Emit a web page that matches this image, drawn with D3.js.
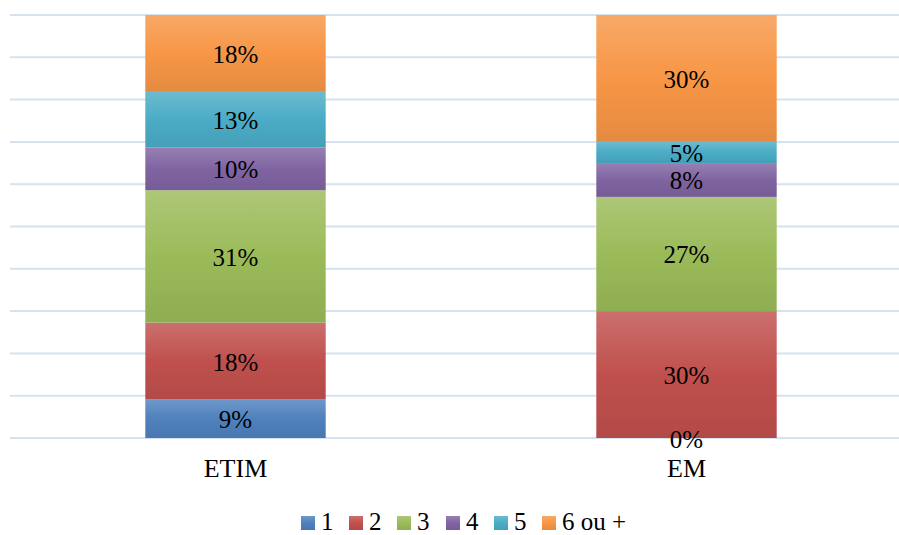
<!DOCTYPE html>
<html>
<head>
<meta charset="utf-8">
<script src="https://cdn.jsdelivr.net/npm/d3@7"></script>
<style>
  html, body { margin: 0; padding: 0; background: #fff; }
  svg { display: block; }
  text { font-family: "Liberation Serif", "Times New Roman", Times, serif; font-size: 25px; fill: #000; }
  .cat { font-size: 26px; }
  .leg { font-size: 25px; }
</style>
</head>
<body>
<svg id="chart" width="899" height="535"></svg>
<script>
// Categories and series (share of respondents, %)
const categories = ["ETIM", "EM"];
const seriesNames = ["1", "2", "3", "4", "5", "6 ou +"];
const s1 = [9, 0];
const s2 = [18, 30];
const s3 = [31, 27];
const s4 = [10, 8];
const s5 = [13, 5];
const s6 = [18, 30];
const seriesValues = [s1, s2, s3, s4, s5, s6];
const colors = ["#4f81bd", "#c0504d", "#9bbb59", "#8064a2", "#4bacc6", "#f79646"];
const yTicks = [0, 0.1, 0.2, 0.3, 0.4, 0.5, 0.6, 0.7, 0.8, 0.9, 1];

const rows = categories.map((c, i) => {
  const r = { cat: c };
  seriesNames.forEach((s, k) => { r[s] = seriesValues[k][i]; });
  return r;
});

const svg = d3.select("#chart");

const plotTop = 15, plotBottom = 438;
const x = d3.scaleBand().domain(categories).range([10, 912]).paddingInner(0.6).paddingOuter(0.3);
const y = d3.scaleLinear().domain([0, 1]).range([plotBottom, plotTop]);

// Vertical gradients per series: lighter at the top, darker at the bottom
const defs = svg.append("defs");
colors.forEach((c, i) => {
  const g = defs.append("linearGradient").attr("id", "grad" + i)
    .attr("x1", 0).attr("y1", 0).attr("x2", 0).attr("y2", 1);
  const base = d3.color(c);
  g.append("stop").attr("offset", "0%").attr("stop-color", d3.interpolateRgb(c, "#fff")(0.18));
  g.append("stop").attr("offset", "50%").attr("stop-color", base.formatHex());
  g.append("stop").attr("offset", "100%").attr("stop-color", base.darker(0.22).formatHex());
});

// Gridlines
svg.append("g").selectAll("line").data(yTicks).join("line")
  .attr("x1", 10).attr("x2", 899)
  .attr("y1", d => y(d)).attr("y2", d => y(d))
  .attr("stroke", "#d6e1f2").attr("stroke-width", 2);

// 100% stacked bars
const stack = d3.stack().keys(seriesNames).offset(d3.stackOffsetExpand);
const layers = stack(rows);

const gl = svg.append("g").selectAll("g").data(layers).join("g")
  .attr("fill", (d, i) => `url(#grad${i})`);
gl.selectAll("rect").data(d => d).join("rect")
  .attr("x", d => x(d.data.cat))
  .attr("width", x.bandwidth())
  .attr("y", d => y(d[1]))
  .attr("height", d => y(d[0]) - y(d[1]));

// Value labels
const lab = svg.append("g");
layers.forEach((layer, k) => {
  layer.forEach(d => {
    lab.append("text")
      .attr("x", x(d.data.cat) + x.bandwidth() / 2)
      .attr("y", (y(d[0]) + y(d[1])) / 2)
      .attr("dy", "0.38em")
      .attr("text-anchor", "middle")
      .text(seriesValues[k][categories.indexOf(d.data.cat)] + "%");
  });
});

// Category axis labels
svg.append("g").selectAll("text").data(categories).join("text")
  .attr("class", "cat")
  .attr("x", d => x(d) + x.bandwidth() / 2)
  .attr("y", 468).attr("dy", "0.35em")
  .attr("text-anchor", "middle")
  .text(d => d);

// Legend
const legendX = [301, 349, 397, 446, 494, 542];
const lg = svg.append("g").selectAll("g").data(seriesNames).join("g")
  .attr("transform", (d, i) => `translate(${legendX[i]},522)`);
lg.append("rect").attr("x", 0).attr("y", -6).attr("width", 14).attr("height", 14)
  .attr("fill", (d, i) => `url(#grad${i})`);
lg.append("text").attr("class", "leg").attr("x", 20).attr("dy", "0.3em")
  .text(d => d);
</script>
</body>
</html>
